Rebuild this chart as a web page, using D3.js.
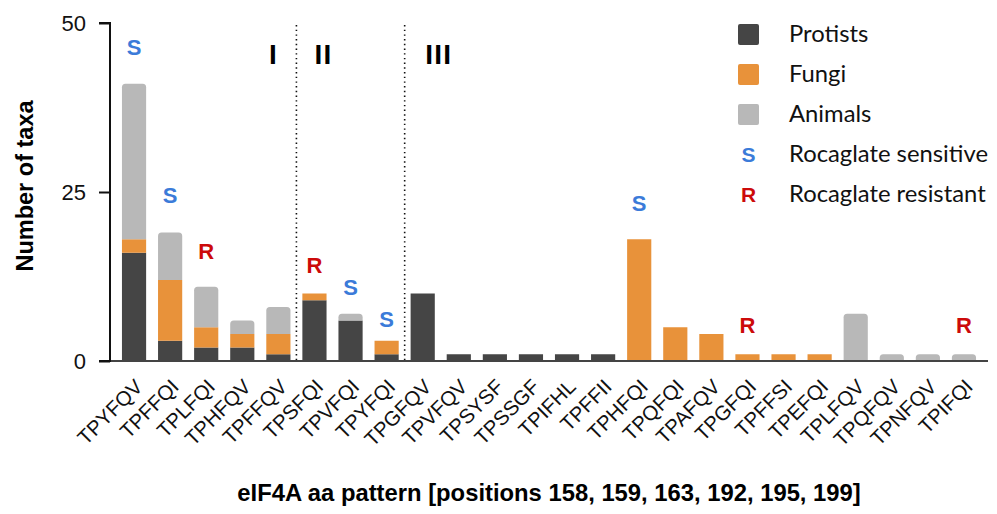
<!DOCTYPE html>
<html>
<head>
<meta charset="utf-8">
<script src="https://cdn.jsdelivr.net/npm/d3@7"></script>
<style>
  body { margin: 0; background: #fff; }
  svg { display: block; }
</style>
</head>
<body>
<div id="chart"></div>
<script>
// patterns (x categories)
const patterns = ["TPYFQV", "TPFFQI", "TPLFQI", "TPHFQV", "TPFFQV", "TPSFQI", "TPVFQI", "TPYFQI",
  "TPGFQV", "TPVFQV", "TPSYSF", "TPSSGF", "TPIFHL", "TPFFII", "TPHFQI", "TPQFQI",
  "TPAFQV", "TPGFQI", "TPFFSI", "TPEFQI", "TPLFQV", "TPQFQV", "TPNFQV", "TPIFQI"];

// number of taxa per group
const protists = [16, 3, 2, 2, 1, 9, 6, 1, 10, 1, 1, 1, 1, 1, 0, 0, 0, 0, 0, 0, 0, 0, 0, 0];
const fungi    = [2, 9, 3, 2, 3, 1, 0, 2, 0, 0, 0, 0, 0, 0, 18, 5, 4, 1, 1, 1, 0, 0, 0, 0];
const animals  = [23, 7, 6, 2, 4, 0, 1, 0, 0, 0, 0, 0, 0, 0, 0, 0, 0, 0, 0, 0, 7, 1, 1, 1];

const groups = ["Protists", "Fungi", "Animals"];
const colors = ["#454545", "#e8923a", "#b8b8b8"];

// rocaglate sensitivity marks (pattern, mark, label level in taxa units)
const markPattern = ["TPYFQV", "TPFFQI", "TPLFQI", "TPSFQI", "TPVFQI", "TPYFQI", "TPHFQI", "TPGFQI", "TPIFQI"];
const markType    = ["S", "S", "R", "R", "S", "S", "S", "R", "R"];
const markLevel   = [45.3, 23.4, 15.1, 13.0, 9.8, 5.0, 22.2, 4.1, 4.1];

const yTicks = [0, 25, 50];
const sections = ["I", "II", "III"];
const sectionStarts = ["TPSFQI", "TPGFQV"]; // first pattern after each divider

const markColor = { S: "#3b7bd9", R: "#cc0a0a" };
const legendLabels = ["Protists", "Fungi", "Animals", "Rocaglate sensitive", "Rocaglate resistant"];

const width = 997, height = 514;
const svg = d3.select("#chart").append("svg")
    .attr("width", width)
    .attr("height", height);

const x = d3.scaleBand()
    .domain(patterns)
    .range([116, 982])
    .paddingInner(0.33)
    .paddingOuter(0.165);

const y = d3.scaleLinear()
    .domain([0, 50])
    .range([361, 23]);

// stacked data
const rows = patterns.map((p, i) => ({ pattern: p, Protists: protists[i], Fungi: fungi[i], Animals: animals[i] }));
const stacked = d3.stack().keys(groups)(rows);

// top-rounded bar path
function barPath(x0, y0, w, h, r) {
    if (h <= 0) return "";
    r = Math.min(r, h, w / 2);
    return "M" + x0 + "," + (y0 + h) +
        "V" + (y0 + r) +
        "Q" + x0 + "," + y0 + " " + (x0 + r) + "," + y0 +
        "H" + (x0 + w - r) +
        "Q" + (x0 + w) + "," + y0 + " " + (x0 + w) + "," + (y0 + r) +
        "V" + (y0 + h) + "Z";
}

const bars = svg.append("g");
stacked.forEach((layer, li) => {
    bars.selectAll(".seg" + li)
        .data(layer.filter(d => d[1] > d[0]))
        .enter()
        .append("path")
        .attr("fill", colors[li])
        .attr("d", d => barPath(x(d.data.pattern), y(d[1]), x.bandwidth(), y(d[0]) - y(d[1]), li === 2 ? 3.5 : 0));
});

// section dividers
const gap = (x.step() - x.bandwidth()) / 2;
sectionStarts.forEach(p => {
    svg.append("line")
        .attr("x1", x(p) - gap).attr("x2", x(p) - gap)
        .attr("y1", y(50) + 2).attr("y2", y(0))
        .attr("stroke", "#111")
        .attr("stroke-width", 1.6)
        .attr("stroke-dasharray", "1.4,3.3");
});

// section numerals
const div1 = x(sectionStarts[0]) - gap, div2 = x(sectionStarts[1]) - gap;
const numeralX = [div1 - 23, div1 + 27, div2 + 34];
sections.forEach((s, i) => {
    svg.append("text")
        .attr("x", numeralX[i])
        .attr("y", 64)
        .attr("text-anchor", "middle")
        .style("font-family", "'Liberation Sans', Arial, sans-serif")
        .style("font-weight", "bold")
        .style("font-size", "28px")
        .style("letter-spacing", "1.2px")
        .text(s);
});

// S / R marks
svg.append("g").selectAll("text")
    .data(markPattern)
    .enter()
    .append("text")
    .attr("x", d => x(d) + x.bandwidth() / 2)
    .attr("y", (d, i) => y(markLevel[i]))
    .attr("text-anchor", "middle")
    .attr("fill", (d, i) => markColor[markType[i]])
    .style("font-family", "'Liberation Sans', Arial, sans-serif")
    .style("font-weight", "bold")
    .style("font-size", "22px")
    .text((d, i) => markType[i]);

// x axis baseline
svg.append("line")
    .attr("x1", 110).attr("x2", 988)
    .attr("y1", y(0)).attr("y2", y(0))
    .attr("stroke", "#444")
    .attr("stroke-width", 2);

// x tick labels
svg.append("g").selectAll("text")
    .data(patterns)
    .enter()
    .append("text")
    .attr("transform", d => "translate(" + (x(d) + x.bandwidth() / 2 + 10) + ",388) rotate(-45)")
    .attr("text-anchor", "end")
    .style("font-family", "'Liberation Sans', Arial, sans-serif")
    .style("font-size", "20.5px")
    .attr("fill", "#111")
    .text(d => d);

// y axis
const yAxis = svg.append("g")
    .attr("transform", "translate(110,0)")
    .call(d3.axisLeft(y).tickValues(yTicks).tickSize(11).tickPadding(13));
yAxis.select(".domain").attr("stroke", "#111").attr("stroke-width", 2).attr("d", "M-11," + y(50) + "H0V" + y(0) + "H-11");
yAxis.selectAll(".tick line").attr("stroke", "#111").attr("stroke-width", 2);
yAxis.selectAll(".tick text")
    .style("font-family", "'Liberation Sans', Arial, sans-serif")
    .style("font-size", "22px")
    .attr("fill", "#111");

// axis titles
svg.append("text")
    .attr("transform", "translate(33,186) rotate(-90)")
    .attr("text-anchor", "middle")
    .style("font-family", "'Liberation Sans', Arial, sans-serif")
    .style("font-weight", "bold")
    .style("font-size", "23.5px")
    .text("Number of taxa");

svg.append("text")
    .attr("x", 549)
    .attr("y", 501)
    .attr("text-anchor", "middle")
    .style("font-family", "'Liberation Sans', Arial, sans-serif")
    .style("font-weight", "bold")
    .style("font-size", "23.8px")
    .text("eIF4A aa pattern [positions 158, 159, 163, 192, 195, 199]");

// legend
const legend = svg.append("g").attr("transform", "translate(738,24)");
legendLabels.forEach((lab, i) => {
    const g = legend.append("g").attr("transform", "translate(0," + (i * 40) + ")");
    if (i < 3) {
        g.append("rect")
            .attr("width", 21).attr("height", 21)
            .attr("rx", 2)
            .attr("fill", colors[i]);
    } else {
        const t = i === 3 ? "S" : "R";
        g.append("text")
            .attr("x", 10.5).attr("y", 18)
            .attr("text-anchor", "middle")
            .attr("fill", markColor[t])
            .style("font-family", "'Liberation Sans', Arial, sans-serif")
            .style("font-weight", "bold")
            .style("font-size", "21px")
            .text(t);
    }
    g.append("text")
        .attr("x", 51).attr("y", 18)
        .style("font-family", "Lato, sans-serif")
        .style("font-size", "23.8px")
        .attr("fill", "#111")
        .text(lab);
});
</script>
</body>
</html>
